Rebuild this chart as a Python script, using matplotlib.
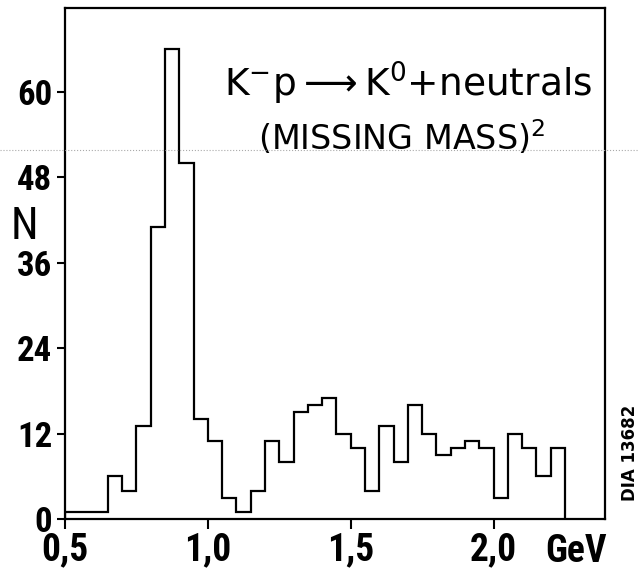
import matplotlib
matplotlib.use("Agg")
import matplotlib.pyplot as plt
from matplotlib import font_manager
from matplotlib.lines import Line2D

# bin edges (GeV) and counts
edges = [0.50, 0.55, 0.60, 0.65, 0.70, 0.75, 0.80, 0.85, 0.90, 0.95,
         1.00, 1.05, 1.10, 1.15, 1.20, 1.25, 1.30, 1.35, 1.40, 1.45,
         1.50, 1.55, 1.60, 1.65, 1.70, 1.75, 1.80, 1.85, 1.90, 1.95,
         2.00, 2.05, 2.10, 2.15, 2.20, 2.25]
counts = [1, 1, 1, 6, 4, 13, 41, 66, 50, 14,
          11, 3, 1, 4, 11, 8, 15, 16, 17, 12,
          10, 4, 13, 8, 16, 12, 9, 10, 11, 10,
          3, 12, 10, 6, 10]

xticks = [0.5, 1.0, 1.5, 2.0]
xticklabels = ['0,5', '1,0', '1,5', '2,0']
yticks = [0, 12, 24, 36, 48, 60]

# narrow lettering on the axes if some condensed face is around
have = {f.name for f in font_manager.fontManager.ttflist}
narrow = 'DejaVu Sans'
for cand in ['Liberation Sans Narrow', 'Roboto Condensed', 'Open Sans Condensed',
             'DejaVu Sans Condensed', 'Noto Sans Condensed']:
    if cand in have:
        narrow = cand
        break
scale = 1.0 if narrow != 'DejaVu Sans' else 0.86

fig = plt.figure(figsize=(6.39, 5.71), dpi=100)
ax = fig.add_axes([0.1017, 0.0911, 0.845, 0.895])

ax.stairs(counts, edges, color='black', lw=1.6, baseline=0)

ax.set_xlim(0.5, 2.39)
ax.set_ylim(0, 71.8)

ax.set_xticks(xticks)
ax.set_xticklabels(xticklabels, family=narrow, fontsize=27 * scale, fontweight='bold')
ax.set_yticks(yticks)
ax.set_yticklabels([str(v) for v in yticks], family=narrow, fontsize=25 * scale,
                   fontweight='bold')
ax.tick_params(axis='x', direction='out', length=7, width=1.5, pad=2)
ax.tick_params(axis='y', direction='out', length=6, width=1.5, pad=3)
for s in ax.spines.values():
    s.set_linewidth(1.6)

# y label, horizontal like on the original
fig.text(0.0376, 0.602, 'N', family=narrow, fontsize=32 * scale,
         ha='center', va='center')
# unit at the right end of the x axis
fig.text(0.950, 0.066, 'GeV', family=narrow, fontsize=27 * scale,
         fontweight='bold', ha='right', va='top')

ax.text(1.70, 59.3, r'K$^{-}$p$\longrightarrow$K$^{0}$+neutrals',
        fontsize=27, ha='center', va='baseline')
ax.text(1.68, 51.8, r'(MISSING MASS)$^{2}$',
        fontsize=24, ha='center', va='baseline')

# plate number written along the right margin
fig.text(0.986, 0.207, 'DIA 13682', fontsize=12, fontweight='bold',
         rotation=90, ha='center', va='center')

# faint dotted scan line
fig.add_artist(Line2D([0, 1], [0.737, 0.737], transform=fig.transFigure,
                      color='#aaaaaa', lw=0.8, ls=':'))

plt.savefig('out.png', dpi=100)
